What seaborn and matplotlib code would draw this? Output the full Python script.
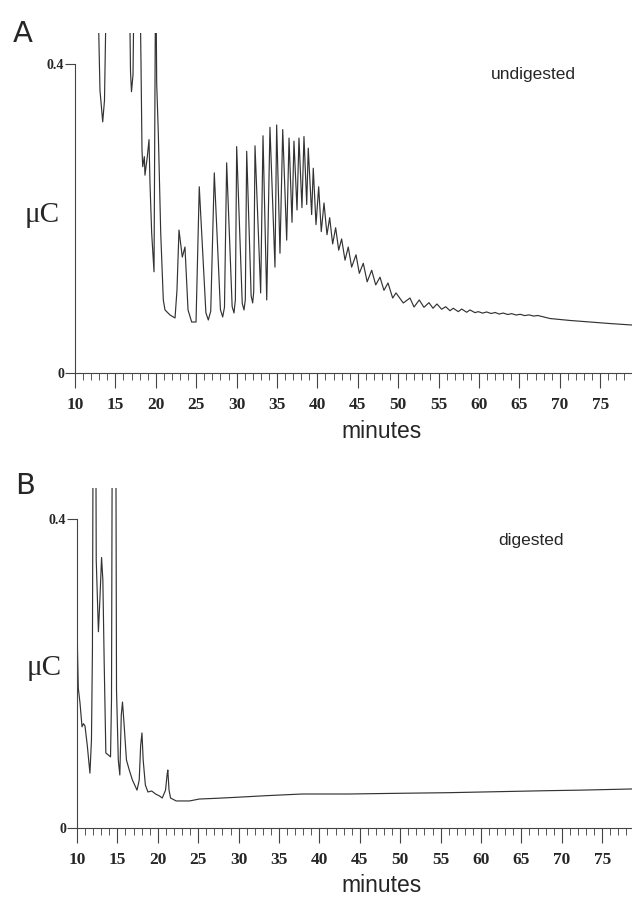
import numpy as np
import pandas as pd
import matplotlib
matplotlib.use("Agg")
import matplotlib.pyplot as plt
from matplotlib.ticker import MultipleLocator, FixedLocator
import seaborn as sns

# ---------------- data ----------------
t_undigested = [10.00, 12.72, 13.09, 13.43, 13.65, 13.96, 16.68, 16.87, 16.99, 17.18, 17.36,
                17.98, 18.17, 18.29, 18.38, 18.58, 18.66, 18.95, 19.16, 19.28, 19.49, 19.78,
                19.99, 20.11, 20.31, 20.61, 20.93, 21.14, 21.76, 22.38, 22.62, 22.87, 23.28,
                23.61, 23.99, 24.44, 24.98, 25.38, 26.20, 26.50, 26.80, 27.24, 28.00, 28.28,
                28.50, 28.77, 29.45, 29.68, 29.85, 30.01, 30.70, 30.92, 31.08, 31.25, 31.80,
                31.99, 32.12, 32.28, 32.98, 33.27, 33.73, 34.13, 34.75, 34.96, 35.37,
                35.71, 36.20, 36.49, 36.86, 37.10, 37.48, 37.72, 38.09, 38.34, 38.68, 38.87,
                39.29, 39.49, 39.83, 40.16, 40.48, 40.82, 41.19, 41.52, 41.89, 42.26, 42.64,
                43.00, 43.42, 43.82, 44.24, 44.78, 45.19, 45.68, 46.16, 46.72, 47.22, 47.75,
                48.24, 48.74, 49.32, 49.73, 50.63, 51.46, 51.96, 52.61, 53.19, 53.81, 54.31,
                54.80, 55.38, 55.88, 56.41, 56.82, 57.44, 57.86, 58.48, 58.89, 59.50, 59.91,
                60.45, 60.95, 61.50, 62.00, 62.50, 63.00, 63.55, 64.05, 64.60, 65.10, 65.65,
                66.20, 66.75, 67.30, 68.79, 71.26, 73.74, 76.21, 78.94]
v_undigested = [0.55, 0.55, 0.366, 0.325, 0.353, 0.55, 0.55, 0.390, 0.364, 0.386, 0.55,
                0.55, 0.40, 0.289, 0.267, 0.280, 0.256, 0.280, 0.302, 0.246, 0.181, 0.131,
                0.55, 0.375, 0.311, 0.181, 0.0945, 0.0816, 0.0751, 0.0712, 0.107, 0.185, 0.150,
                0.163, 0.0816, 0.066, 0.066, 0.241, 0.078, 0.0686, 0.080, 0.259, 0.082, 0.0725,
                0.085, 0.272, 0.086, 0.0777, 0.095, 0.293, 0.090, 0.0816, 0.095, 0.287, 0.100,
                0.0906, 0.105, 0.294, 0.1036, 0.307, 0.0945, 0.318, 0.137, 0.321, 0.155,
                0.315, 0.172, 0.304, 0.195, 0.300, 0.211, 0.304, 0.214, 0.306, 0.218, 0.291,
                0.205, 0.265, 0.192, 0.241, 0.183, 0.220, 0.179, 0.201, 0.167, 0.188, 0.159,
                0.1735, 0.146, 0.163, 0.137, 0.153, 0.129, 0.142, 0.118, 0.133, 0.114, 0.124,
                0.107, 0.1165, 0.097, 0.1036, 0.0906, 0.097, 0.0854, 0.0945, 0.085, 0.091, 0.0838,
                0.0893, 0.0825, 0.0858, 0.0806, 0.0838, 0.0794, 0.0828, 0.0786, 0.0816, 0.0781, 0.0794,
                0.0775, 0.0790, 0.0770, 0.0783, 0.0763, 0.0776, 0.0757, 0.0768, 0.0750, 0.0760, 0.0743,
                0.0752, 0.0737, 0.0744, 0.0705, 0.068, 0.066, 0.064, 0.0621]

t_digested = [10.00, 10.06, 10.16, 10.37, 10.62, 10.80, 10.99, 11.27, 11.60, 11.79, 11.91,
              12.00, 12.32, 12.38, 12.65, 12.83, 13.04, 13.20, 13.36, 13.57, 13.88, 14.15,
              14.27, 14.37, 14.80, 14.89, 15.11, 15.30, 15.48, 15.63, 15.79, 16.12, 16.47,
              16.86, 17.14, 17.43, 17.70, 17.88, 18.04, 18.19, 18.46, 18.78, 19.24, 19.73,
              20.22, 20.55, 20.96, 21.15, 21.24, 21.39, 21.58, 22.28, 23.92, 25.15, 27.20,
              29.67, 33.36, 37.87, 43.62, 49.78, 55.94, 62.09, 68.25, 72.35, 78.69]
v_digested = [0.276, 0.230, 0.181, 0.162, 0.131, 0.135, 0.132, 0.107, 0.071, 0.114, 0.230,
              0.55, 0.55, 0.347, 0.254, 0.295, 0.350, 0.321, 0.217, 0.097, 0.0945, 0.092,
              0.166, 0.55, 0.55, 0.179, 0.088, 0.0686, 0.146, 0.163, 0.140, 0.088, 0.075,
              0.062, 0.0557, 0.049, 0.062, 0.107, 0.123, 0.088, 0.0557, 0.0466, 0.0479, 0.044,
              0.0414, 0.0388, 0.049, 0.069, 0.075, 0.049, 0.0388, 0.035, 0.035, 0.0375, 0.0384,
              0.0397, 0.0418, 0.044, 0.044, 0.0449, 0.0457, 0.047, 0.0483, 0.049, 0.0505]

x_ticks_major = [10, 15, 20, 25, 30, 35, 40, 45, 50, 55, 60, 65, 70, 75]
y_ticks = [0, 0.4]
y_tick_labels = ["0", "0.4"]
panel_letters = ["A", "B"]
panel_titles = ["undigested", "digested"]
x_label = "minutes"
y_label = "\u03bcC"

# ---------------- figure ----------------
sns.set_style("ticks")
plt.rcParams['font.family'] = ['Liberation Serif', 'DejaVu Serif']

W, H = 632, 899
fig = plt.figure(figsize=(W / 100, H / 100), dpi=100)

# axes rectangles in pixels: left, top(clip), right, axis y
rects = [(75, 33, 632, 373), (77, 488, 632, 828)]
xmaxes = [78.94, 78.69]
datasets = [(t_undigested, v_undigested), (t_digested, v_digested)]
letter_pos = [(23, 34), (25, 486)]
title_pos = [(533, 75), (531, 540)]
ylab_pos = [(42, 215), (44, 668)]
xlab_pos = [(382, 432), (382, 885)]

line_color = "#333333"

for i in range(2):
    l, t, r, b = rects[i]
    ax = fig.add_axes([l / W, 1 - b / H, (r - l) / W, (b - t) / H])
    tt, vv = datasets[i]
    df = pd.DataFrame({"minutes": tt, "uC": vv})
    sns.lineplot(data=df, x="minutes", y="uC", ax=ax, sort=False, estimator=None,
                 color=line_color, linewidth=0.85)
    ax.set_xlim(10, xmaxes[i])
    ax.set_ylim(0, 0.44)
    ax.set_xlabel("")
    ax.set_ylabel("")
    for s in ["top", "right"]:
        ax.spines[s].set_visible(False)
    ax.spines["left"].set_bounds(0, 0.4)
    ax.spines["left"].set_color("#444444")
    ax.spines["bottom"].set_color("#444444")
    ax.spines["left"].set_linewidth(0.8)
    ax.spines["bottom"].set_linewidth(0.8)

    ax.xaxis.set_major_locator(FixedLocator(x_ticks_major))
    ax.xaxis.set_minor_locator(MultipleLocator(1))
    ax.set_xticks(x_ticks_major)
    ax.set_xticklabels([str(v) for v in x_ticks_major], fontsize=12.5,
                       fontweight="bold", family=["Liberation Serif"])
    ax.tick_params(axis="x", which="major", direction="out", length=11, width=0.8,
                   color="#444444", pad=6)
    ax.tick_params(axis="x", which="minor", direction="out", length=5, width=0.7,
                   color="#555555")
    ax.set_yticks(y_ticks)
    ax.set_yticklabels(y_tick_labels, fontsize=10, fontweight="bold",
                       family=["Liberation Serif"])
    ax.tick_params(axis="y", which="major", direction="out", length=7, width=0.8,
                   color="#444444", pad=1)
    ax.yaxis.set_minor_locator(FixedLocator([]))

    fig.text(letter_pos[i][0] / W, 1 - letter_pos[i][1] / H, panel_letters[i],
             fontsize=21, family=["DejaVu Sans"], ha="center", va="center")
    fig.text(title_pos[i][0] / W, 1 - title_pos[i][1] / H, panel_titles[i],
             fontsize=12.5, family=["Liberation Sans"], ha="center", va="center")
    fig.text(ylab_pos[i][0] / W, 1 - ylab_pos[i][1] / H, y_label,
             fontsize=21, family=["Liberation Serif"], ha="center", va="center")
    fig.text(xlab_pos[i][0] / W, 1 - xlab_pos[i][1] / H, x_label,
             fontsize=16.5, family=["Liberation Sans"], ha="center", va="center")

fig.savefig("out.png", dpi=100, facecolor="white")
